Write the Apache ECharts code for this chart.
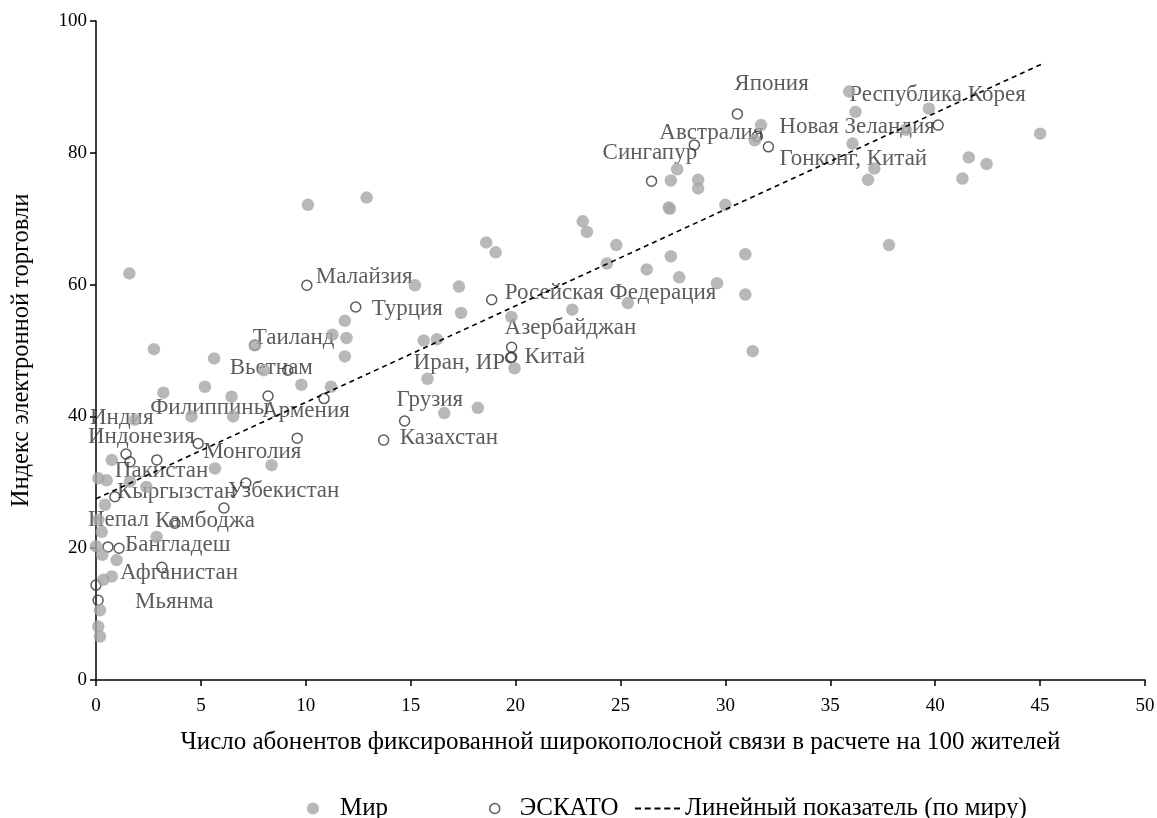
<!DOCTYPE html>
<html>
<head>
<meta charset="utf-8">
<script src="https://cdn.jsdelivr.net/npm/echarts@6/dist/echarts.min.js"></script>
<style>
  html, body { margin: 0; padding: 0; background: #fff; }
  #chart { width: 1157px; height: 818px; }
</style>
</head>
<body>
<div id="chart"></div>
<script>
// Fixed broadband subscriptions per 100 inhabitants (x) vs. e-commerce index (y)

// All economies ("Мир")
const worldX = [35.9, 36.2, 39.7, 31.7, 31.4, 36.06, 38.6, 37.1, 36.8, 41.6, 42.45, 41.3, 45.0, 37.8,
  27.7, 27.4, 28.7, 28.7, 27.3, 27.35, 30.0, 23.2, 23.4, 18.6, 19.05, 24.8, 24.35, 27.4, 30.95, 26.25,
  27.8, 29.6, 30.95, 25.35, 22.7, 31.3, 19.8, 15.2, 17.3, 17.4, 15.62, 16.25, 15.8, 19.95, 16.6, 18.2,
  10.1, 12.9, 1.59, 2.76, 5.63, 7.57, 11.27, 11.86, 11.94, 11.86, 8.0, 9.79, 11.2, 5.19, 3.21, 6.46,
  4.55, 6.54, 1.86, 5.67, 8.37, 0.75, 0.11, 0.51, 2.4, 1.62, 0.43, 0.11, 2.89, 0.27, 0.98, 0.75,
  0.35, 0.19, 0.11, 0.19, 0.0, 0.3];
const worldY = [89.3, 86.2, 86.7, 84.2, 81.9, 81.4, 83.5, 77.6, 75.9, 79.3, 78.3, 76.1, 82.9, 66.0,
  77.5, 75.8, 75.9, 74.6, 71.7, 71.5, 72.1, 69.6, 68.0, 66.4, 64.9, 66.0, 63.2, 64.3, 64.6, 62.3,
  61.1, 60.2, 58.5, 57.2, 56.2, 49.9, 55.1, 59.9, 59.7, 55.7, 51.5, 51.7, 45.7, 47.3, 40.5, 41.3,
  72.1, 73.2, 61.7, 50.2, 48.8, 50.8, 52.4, 54.5, 51.9, 49.1, 47.0, 44.8, 44.5, 44.5, 43.6, 43.0,
  40.0, 40.0, 39.5, 32.1, 32.6, 33.4, 30.6, 30.3, 29.3, 30.1, 26.6, 24.3, 21.7, 22.5, 18.2, 15.7,
  15.2, 10.6, 8.1, 6.6, 20.3, 19.0];

// ESCAP member economies ("ЭСКАТО")
const escapNames = ['Япония', 'Республика Корея', 'Новая Зеландия', 'Гонконг, Китай', 'Австралия',
  'Сингапур', 'Малайзия', 'Турция', 'Росейская Федерация', 'Азербайджан', 'Китай', 'Иран, ИР',
  'Грузия', 'Казахстан', 'Вьетнам', 'Таиланд', 'Армения', 'Филиппины', 'Монголия', '',
  'Индия', 'Индонезия', 'Пакистан', 'Кыргызстан', 'Узбекистан', 'Камбоджа', '', 'Непал',
  'Бангладеш', 'Афганистан', 'Мьянма', ''];
const escapX = [30.57, 40.14, 31.52, 32.05, 28.52, 26.48, 10.05, 12.38, 18.86, 19.81, 19.81, 19.76,
  14.71, 13.71, 9.14, 7.57, 10.87, 4.87, 9.59, 8.2, 1.43, 1.62, 2.9, 0.9, 7.14, 3.76, 6.1, 0.57,
  1.1, 0.0, 0.1, 3.14];
const escapY = [85.9, 84.2, 82.5, 80.9, 81.2, 75.7, 59.9, 56.6, 57.7, 50.5, 49.0, 48.9, 39.3, 36.4,
  47.0, 50.8, 42.7, 35.9, 36.7, 43.1, 34.3, 33.1, 33.4, 27.8, 29.9, 23.8, 26.1, 20.2, 20.0, 14.4,
  12.1, 17.1];

// Linear trend over all economies (end points)
const trendX = [0, 45.1];
const trendY = [27.5, 93.5];

// Axis ticks
const xTicks = [0, 5, 10, 15, 20, 25, 30, 35, 40, 45, 50];
const yTicks = [0, 20, 40, 60, 80, 100];

// Label placement: pixel shift of each label's left-middle point from its marker
const labelShift = {
  'Япония': [-3, -30], 'Республика Корея': [-89, -30], 'Новая Зеландия': [22, -9],
  'Гонконг, Китай': [11, 12], 'Австралия': [-35, -12], 'Сингапур': [-49, -28],
  'Малайзия': [9, -8], 'Турция': [16, 2], 'Росейская Федерация': [13, -7],
  'Азербайджан': [-7, -19], 'Китай': [13, 0], 'Иран, ИР': [-97, 5], 'Грузия': [-8, -21],
  'Казахстан': [16, -2], 'Вьетнам': [-58, -2], 'Таиланд': [-2, -7], 'Армения': [-62, 12],
  'Филиппины': [-48, -35], 'Монголия': [-94, 14], 'Индия': [-36, -36], 'Индонезия': [-42, -25],
  'Пакистан': [-42, 11], 'Кыргызстан': [2, -5], 'Узбекистан': [-18, 8], 'Камбоджа': [-20, -2],
  'Непал': [-20, -27], 'Бангладеш': [6, -3], 'Афганистан': [24, -12], 'Мьянма': [37, 2]
};

const FONT = '"Liberation Serif", "Times New Roman", serif';

const worldData = worldX.map((x, i) => [x, worldY[i]]);
const escapData = escapX.map((x, i) => ({
  name: escapNames[i],
  value: [x, escapY[i]],
  label: { offset: labelShift[escapNames[i]] || [0, 0] }
}));
const trendData = trendX.map((x, i) => [x, trendY[i]]);

// Legend icon for the dashed trend line: five short dashes
const dashIcon = 'path://M0,0h6v2h-6z M9.75,0h6v2h-6z M19.5,0h6v2h-6z M29.25,0h6v2h-6z M39,0h6v2h-6z';

const chart = echarts.init(document.getElementById('chart'), null, { renderer: 'canvas' });

const legendText = { fontFamily: FONT, fontSize: 25, color: '#000' };

chart.setOption({
  animation: false,
  backgroundColor: '#fff',
  grid: { left: 96, right: 12, top: 21, bottom: 138, outerBoundsMode: 'none', containLabel: false },
  xAxis: {
    type: 'value', min: xTicks[0], max: xTicks[xTicks.length - 1], interval: xTicks[1] - xTicks[0],
    name: 'Число абонентов фиксированной широкополосной связи в расчете на 100 жителей',
    nameLocation: 'middle', nameGap: 50,
    nameTextStyle: { fontFamily: FONT, fontSize: 25, color: '#000' },
    axisLine: { lineStyle: { color: '#000', width: 1.5 } },
    axisTick: { show: true, inside: false, length: 6, lineStyle: { color: '#000', width: 1.5 } },
    axisLabel: { fontFamily: FONT, fontSize: 19, color: '#000', margin: 17 },
    splitLine: { show: false }
  },
  yAxis: {
    type: 'value', min: yTicks[0], max: yTicks[yTicks.length - 1], interval: yTicks[1] - yTicks[0],
    name: 'Индекс электронной торговли',
    nameLocation: 'middle', nameGap: 62, nameRotate: 90,
    nameTextStyle: { fontFamily: FONT, fontSize: 24.5, color: '#000' },
    axisLine: { show: true, lineStyle: { color: '#000', width: 1.5 } },
    axisTick: { show: true, inside: false, length: 6, lineStyle: { color: '#000', width: 1.5 } },
    axisLabel: { fontFamily: FONT, fontSize: 19, color: '#000', margin: 9 },
    splitLine: { show: false }
  },
  legend: [
    {
      left: 302, top: 791, itemWidth: 44, itemHeight: 12, textStyle: legendText,
      data: [{ name: 'Мир', icon: 'circle' }]
    },
    {
      left: 484, top: 791, itemWidth: 40, itemHeight: 10, textStyle: legendText,
      data: [{ name: 'ЭСКАТО', icon: 'circle',
        itemStyle: { color: '#fff', borderColor: '#333', borderWidth: 1.5 } }]
    },
    {
      left: 630, top: 791, itemWidth: 45, itemHeight: 2, textStyle: legendText,
      data: [{ name: 'Линейный показатель (по миру)', icon: dashIcon,
        itemStyle: { color: '#000', borderWidth: 0 } }]
    }
  ],
  series: [
    {
      name: 'ЭСКАТО', type: 'scatter', z: 2,
      symbol: 'circle', symbolSize: 10,
      itemStyle: { color: 'rgba(255,255,255,0)', borderColor: '#333', borderWidth: 1.5 },
      label: {
        show: true, position: 'inside', align: 'left', verticalAlign: 'middle',
        formatter: '{b}', fontFamily: FONT, fontSize: 23, color: '#333'
      },
      emphasis: { disabled: true },
      data: escapData
    },
    {
      name: 'Мир', type: 'scatter', z: 3,
      symbol: 'circle', symbolSize: 12.5,
      itemStyle: { color: '#a6a6a6' },
      emphasis: { disabled: true },
      data: worldData
    },
    {
      name: 'Линейный показатель (по миру)', type: 'line', z: 4,
      symbol: 'none', silent: true,
      lineStyle: { color: '#000', width: 1.6, type: [5, 4] },
      itemStyle: { color: '#000' },
      data: trendData
    }
  ]
});
</script>
</body>
</html>
